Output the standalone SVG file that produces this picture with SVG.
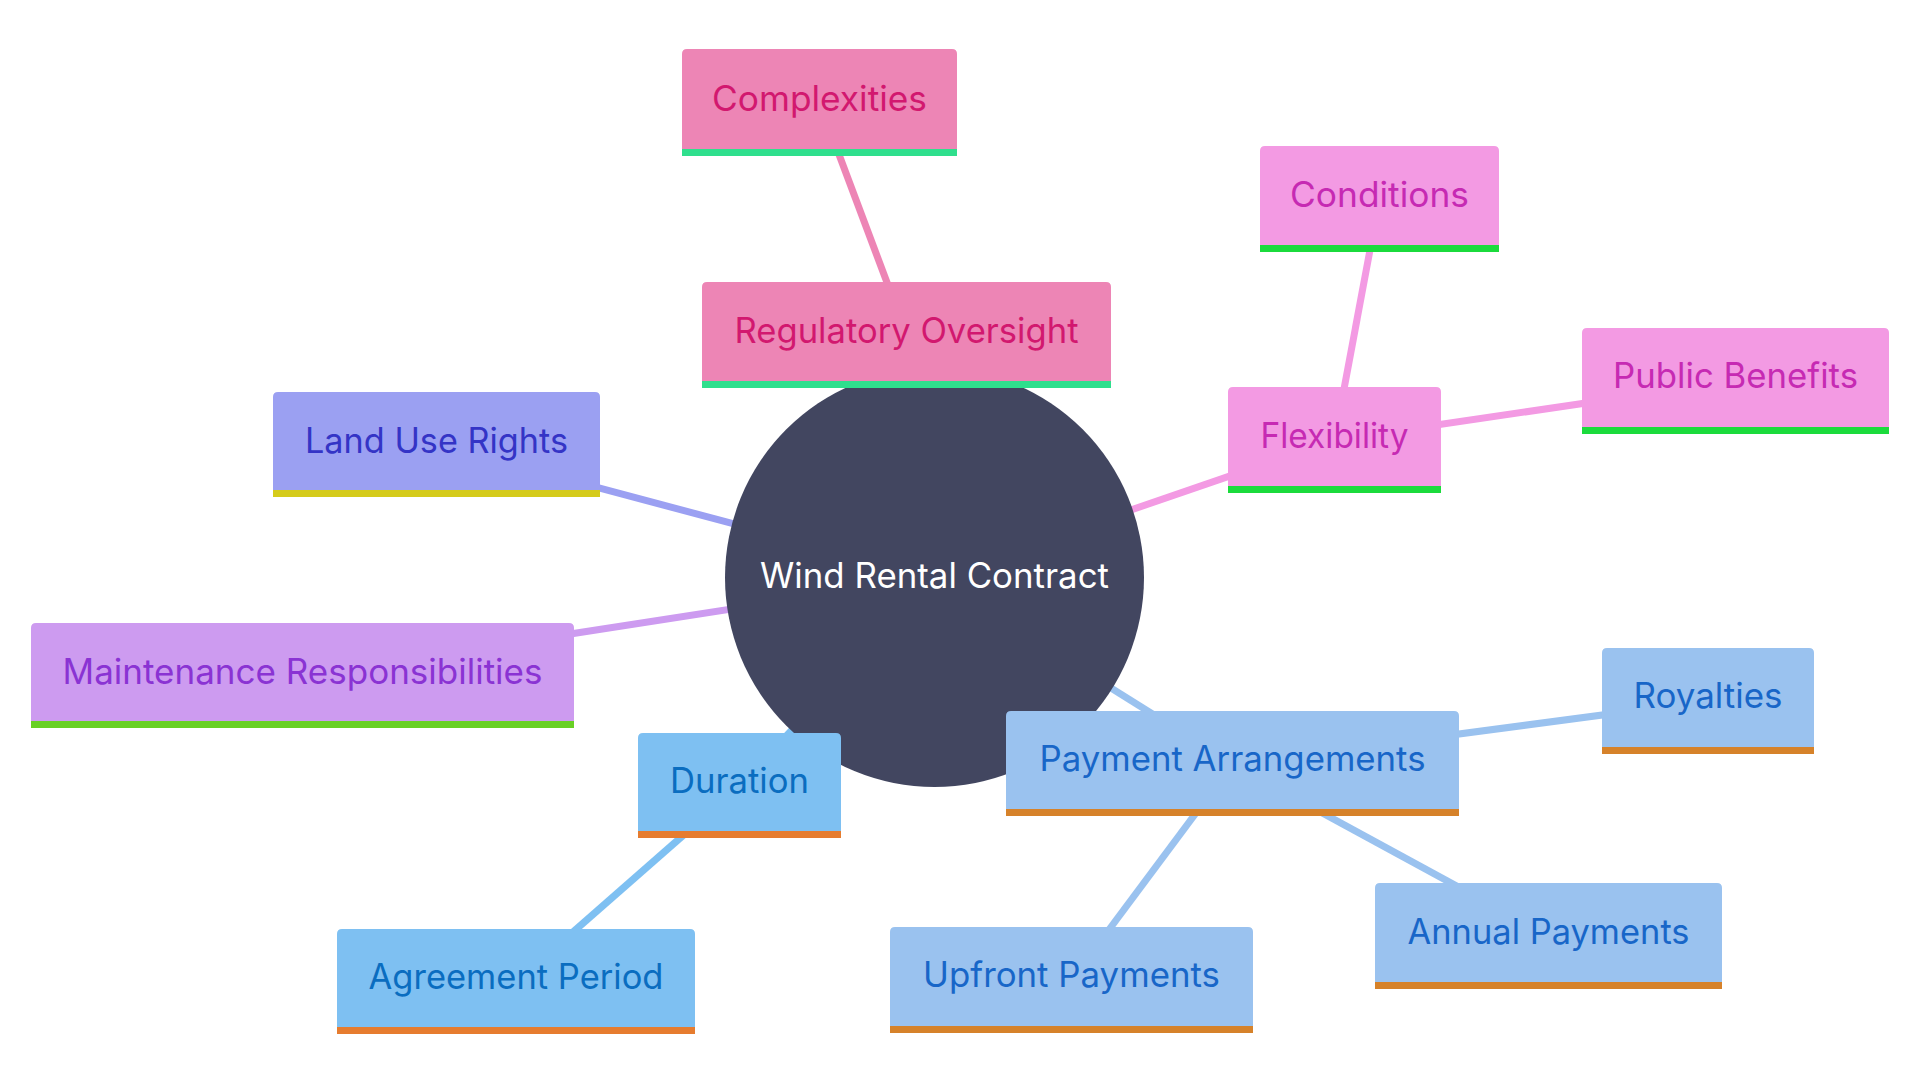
<svg xmlns="http://www.w3.org/2000/svg" width="1920" height="1080" viewBox="0 0 1920 1080">
<style>
text{font-family:Inter,"Liberation Sans",sans-serif;font-size:35px;text-anchor:middle}
.edge{fill:none;stroke-width:7;stroke-linecap:butt}
.s-reg .box,.e-reg{fill:#ed85b5;stroke:#ed85b5}
.s-reg text{fill:#d2186f}.s-reg .bar{fill:#2fdf8d}
.s-flex .box{fill:#f39ae3}.e-flex{stroke:#f39ae3}
.s-flex text{fill:#c62ab3}.s-flex .bar{fill:#1bdb3c}
.s-land .box{fill:#9ba0f2}.e-land{stroke:#9ba0f2}
.s-land text{fill:#3434c6}.s-land .bar{fill:#d5cb1b}
.s-maint .box{fill:#cd9bf0}.e-maint{stroke:#cd9bf0}
.s-maint text{fill:#8a33d3}.s-maint .bar{fill:#69d025}
.s-dur .box{fill:#7ec0f2}.e-dur{stroke:#7ec0f2}
.s-dur text{fill:#0a6dc0}.s-dur .bar{fill:#e67c2f}
.s-pay .box{fill:#9ac2ef}.e-pay{stroke:#9ac2ef}
.s-pay text{fill:#1866c8}.s-pay .bar{fill:#d6822a}
.e-reg{fill:none}
.s-reg .box{stroke:none}
</style>
<rect width="1920" height="1080" fill="#ffffff"/>
<g id="connectors">
<line class="edge e-reg" x1="934.5" y1="577.5" x2="906.5" y2="334.5"/>
<line class="edge e-reg" x1="906.5" y1="334.5" x2="819.5" y2="102.5"/>
<line class="edge e-flex" x1="934.5" y1="577.5" x2="1334.5" y2="440"/>
<line class="edge e-flex" x1="1334.5" y1="440" x2="1379.5" y2="199"/>
<line class="edge e-flex" x1="1334.5" y1="440" x2="1735.5" y2="381"/>
<line class="edge e-land" x1="934.5" y1="577.5" x2="436.5" y2="444.5"/>
<line class="edge e-maint" x1="934.5" y1="577.5" x2="302.5" y2="675.5"/>
<line class="edge e-dur" x1="934.5" y1="577.5" x2="739.5" y2="786"/>
<line class="edge e-dur" x1="739.5" y1="786" x2="516" y2="982"/>
<line class="edge e-pay" x1="934.5" y1="577.5" x2="1232.5" y2="764"/>
<line class="edge e-pay" x1="1232.5" y1="764" x2="1708" y2="701"/>
<line class="edge e-pay" x1="1232.5" y1="764" x2="1548.5" y2="936"/>
<line class="edge e-pay" x1="1232.5" y1="764" x2="1071.5" y2="980"/>
</g>
<g id="root">
<circle cx="934.5" cy="577.5" r="209.5" fill="#424660"/>
<text x="934.5" y="588" fill="#ffffff" textLength="349" lengthAdjust="spacingAndGlyphs">Wind Rental Contract</text>
</g>
<g id="regulatory" class="s-reg">
<path class="box" d="M702,388V287Q702,282 707,282H1106Q1111,282 1111,287V388Z"/>
<rect class="bar" x="702" y="381" width="409" height="7"/>
<text x="906.5" y="343" textLength="344" lengthAdjust="spacingAndGlyphs">Regulatory Oversight</text>
</g>
<g id="complexities" class="s-reg">
<path class="box" d="M682,156V54Q682,49 687,49H952Q957,49 957,54V156Z"/>
<rect class="bar" x="682" y="149" width="275" height="7"/>
<text x="819.5" y="111" textLength="215" lengthAdjust="spacingAndGlyphs">Complexities</text>
</g>
<g id="flexibility" class="s-flex">
<path class="box" d="M1228,493V392Q1228,387 1233,387H1436Q1441,387 1441,392V493Z"/>
<rect class="bar" x="1228" y="486" width="213" height="7"/>
<text x="1334.5" y="448" textLength="148" lengthAdjust="spacingAndGlyphs">Flexibility</text>
</g>
<g id="conditions" class="s-flex">
<path class="box" d="M1260,252V151Q1260,146 1265,146H1494Q1499,146 1499,151V252Z"/>
<rect class="bar" x="1260" y="245" width="239" height="7"/>
<text x="1379.5" y="207" textLength="179" lengthAdjust="spacingAndGlyphs">Conditions</text>
</g>
<g id="public-benefits" class="s-flex">
<path class="box" d="M1582,434V333Q1582,328 1587,328H1884Q1889,328 1889,333V434Z"/>
<rect class="bar" x="1582" y="427" width="307" height="7"/>
<text x="1735.5" y="388" textLength="245" lengthAdjust="spacingAndGlyphs">Public Benefits</text>
</g>
<g id="land-use-rights" class="s-land">
<path class="box" d="M273,497V397Q273,392 278,392H595Q600,392 600,397V497Z"/>
<rect class="bar" x="273" y="490" width="327" height="7"/>
<text x="436.5" y="453" textLength="263" lengthAdjust="spacingAndGlyphs">Land Use Rights</text>
</g>
<g id="maintenance" class="s-maint">
<path class="box" d="M31,728V628Q31,623 36,623H569Q574,623 574,628V728Z"/>
<rect class="bar" x="31" y="721" width="543" height="7"/>
<text x="302.5" y="684" textLength="480" lengthAdjust="spacingAndGlyphs">Maintenance Responsibilities</text>
</g>
<g id="duration" class="s-dur">
<path class="box" d="M638,838V738Q638,733 643,733H836Q841,733 841,738V838Z"/>
<rect class="bar" x="638" y="831" width="203" height="7"/>
<text x="739.5" y="793" textLength="139" lengthAdjust="spacingAndGlyphs">Duration</text>
</g>
<g id="agreement-period" class="s-dur">
<path class="box" d="M337,1034V934Q337,929 342,929H690Q695,929 695,934V1034Z"/>
<rect class="bar" x="337" y="1027" width="358" height="7"/>
<text x="516" y="989" textLength="295" lengthAdjust="spacingAndGlyphs">Agreement Period</text>
</g>
<g id="payment-arrangements" class="s-pay">
<path class="box" d="M1006,816V716Q1006,711 1011,711H1454Q1459,711 1459,716V816Z"/>
<rect class="bar" x="1006" y="809" width="453" height="7"/>
<text x="1232.5" y="771" textLength="386" lengthAdjust="spacingAndGlyphs">Payment Arrangements</text>
</g>
<g id="royalties" class="s-pay">
<path class="box" d="M1602,754V653Q1602,648 1607,648H1809Q1814,648 1814,653V754Z"/>
<rect class="bar" x="1602" y="747" width="212" height="7"/>
<text x="1708" y="708" textLength="149" lengthAdjust="spacingAndGlyphs">Royalties</text>
</g>
<g id="annual-payments" class="s-pay">
<path class="box" d="M1375,989V888Q1375,883 1380,883H1717Q1722,883 1722,888V989Z"/>
<rect class="bar" x="1375" y="982" width="347" height="7"/>
<text x="1548.5" y="944" textLength="282" lengthAdjust="spacingAndGlyphs">Annual Payments</text>
</g>
<g id="upfront-payments" class="s-pay">
<path class="box" d="M890,1033V932Q890,927 895,927H1248Q1253,927 1253,932V1033Z"/>
<rect class="bar" x="890" y="1026" width="363" height="7"/>
<text x="1071.5" y="987" textLength="297" lengthAdjust="spacingAndGlyphs">Upfront Payments</text>
</g>
</svg>
